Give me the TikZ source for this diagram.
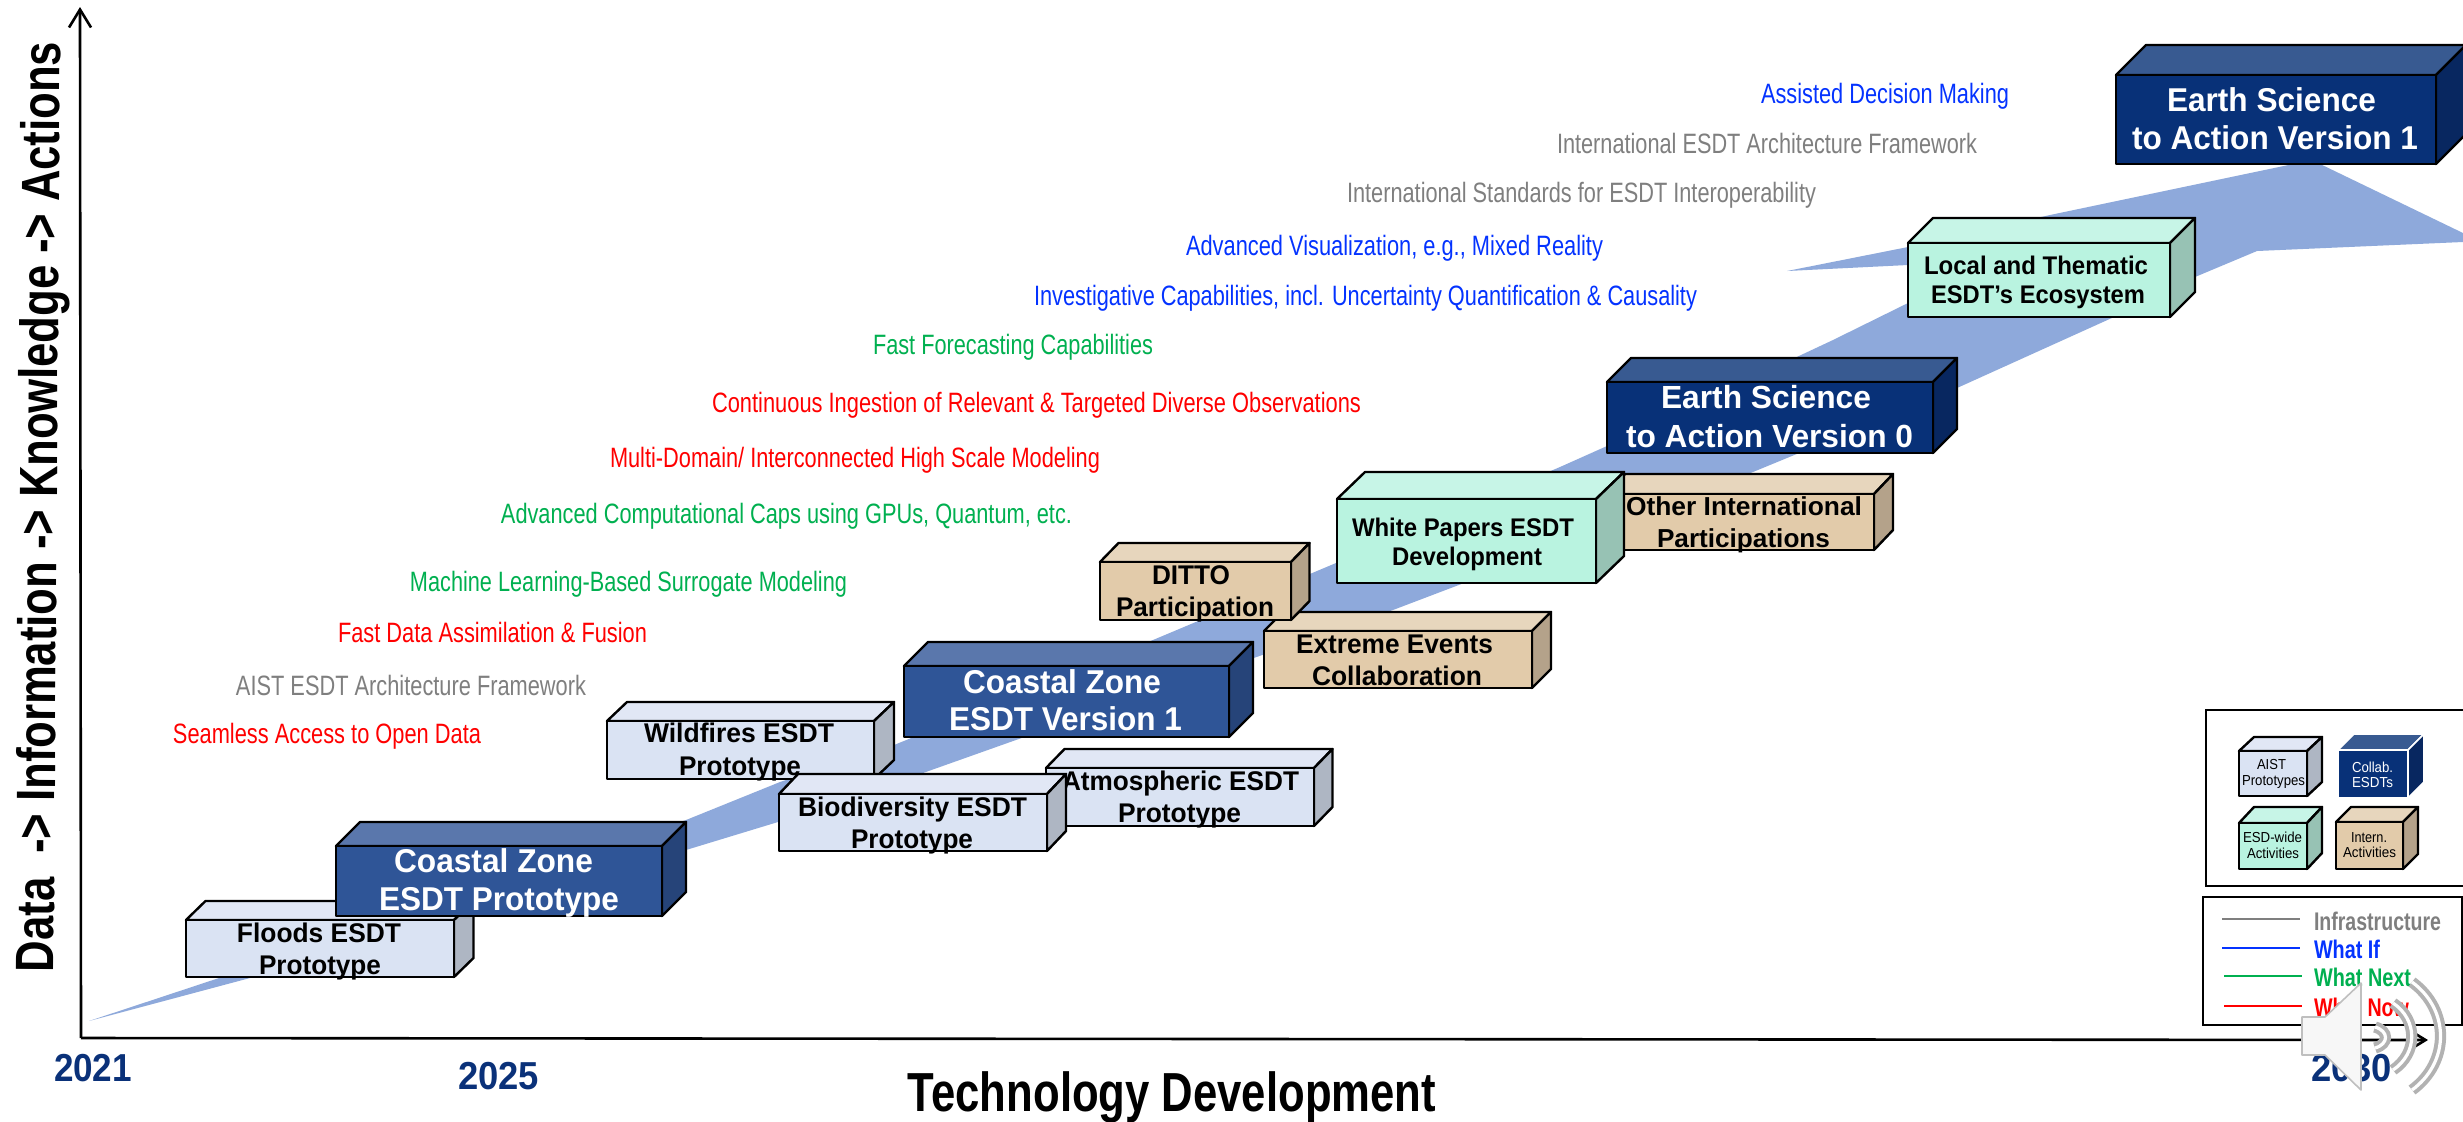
\documentclass[tikz,border=0pt]{standalone}
\usepackage{fontspec}
\usepackage{graphicx}
\setmainfont{Liberation Sans}
\usetikzlibrary{arrows.meta}
\definecolor{ribbon}{HTML}{8EA9DB}
\definecolor{lbF}{HTML}{DAE3F3}\definecolor{lbT}{HTML}{E1E7F5}\definecolor{lbS}{HTML}{AEB6C3}
\definecolor{mbF}{HTML}{2F5597}\definecolor{mbT}{HTML}{5A77AC}\definecolor{mbS}{HTML}{264479}
\definecolor{nvF}{HTML}{083178}\definecolor{nvT}{HTML}{385A91}\definecolor{nvS}{HTML}{082760}
\definecolor{mtF}{HTML}{B9F3E0}\definecolor{mtT}{HTML}{C7F5E7}\definecolor{mtS}{HTML}{97C2B4}
\definecolor{tnF}{HTML}{E2CBAA}\definecolor{tnT}{HTML}{E7D6BD}\definecolor{tnS}{HTML}{B4A28A}
\definecolor{tblue}{HTML}{0433FF}\definecolor{tgray}{HTML}{7F7F7F}
\definecolor{tgreen}{HTML}{00B050}\definecolor{tred}{HTML}{FF0000}\definecolor{year}{HTML}{0A3179}
\tikzset{
  cubeedge/.style={draw=black,line width=1.2pt,line join=round},
  tl/.style={inner sep=0pt,outer sep=0pt,anchor=base},
  bd/.style={font=\bfseries},
  axisline/.style={draw=black,line width=1.3pt,-{Straight Barb[length=9pt,width=11pt,line width=1.3pt]}},
  frame/.style={draw=black,line width=1.4pt},
  key/.style={line width=1.3pt},
  wave/.style={draw=black!30,double=white,line width=2pt,double distance=1.6pt}
}
% name x1 y1 x2 y2 dx dy scheme
\newcommand\cube[8]{%
  \begin{scope}[yshift=-0.5pt]
  \path[cubeedge,fill=#8T] (#2,#3) -- ++(#6,-#7) -- ({#4+#6},{#3-#7}) -- (#4,#3) -- cycle;
  \path[cubeedge,fill=#8S] (#4,#3) -- ({#4+#6},{#3-#7}) -- ({#4+#6},{#5-#7}) -- (#4,#5) -- cycle;
  \pgfmathsetlengthmacro{\cw}{(#4-#2)*0.5}\pgfmathsetlengthmacro{\ch}{(#5-#3)*0.5}%
  \node[cubeedge,fill=#8F,anchor=north west,inner sep=0pt,outer sep=0pt,minimum width=\cw,minimum height=\ch] (#1) at (#2,#3) {};
  \end{scope}
}
% name x1 x2 capcentre size style text
\newcommand\tline[7]{%
  \pgfmathsetlengthmacro{\tw}{(#3-#2)*0.5}\pgfmathsetmacro{\fs}{#5*0.5}%
  \node[tl,#6] (#1) at ({(#2+#3)/2},{#4+0.358*#5}) {\resizebox{\tw}{\height}{\fontsize{\fs pt}{\fs pt}\selectfont #7}};
}
\begin{document}
\begin{tikzpicture}[x=0.5pt,y=-0.5pt]
\useasboundingbox (0,0) rectangle (2463,1121);
\fill[white] (0,0) rectangle (2463,1121);
% ribbon
\fill[ribbon] (89,1021) -- (250,978) -- (686,850) -- (778,822) -- (923,773) -- (1030,735) -- (1393,610) -- (1464,583)
  -- (1753,472) -- (1957,388) -- (2114,317) -- (2195,277) -- (2257,251) -- (2463,242) -- (2463,233) -- (2318,163) -- (2312,160) -- (2298,163)
  -- (2050,215) -- (1908,247) -- (1787,271) -- (1908,265) -- (1985,261) -- (1908,303) -- (1833,340) -- (1607,446) -- (1560,467)
  -- (1336,563) -- (1153,640) -- (894,745) -- (780,782) -- (686,820) -- (219,978) -- cycle;
% axes
\coordinate (o) at (81,1038);
\coordinate (ytip) at (80,7);
\coordinate (xtip) at (2428,1040);
\draw[axisline] (o) -- (ytip);
\draw[axisline] (o) -- (xtip);
% cubes
\cube{floods}{186}{919}{454}{976}{19.5}{19}{lb}
\tline{floodsa}{237}{401}{933}{27}{bd}{Floods ESDT}
\tline{floodsb}{259}{381}{965}{27}{bd}{Prototype}
\cube{czp}{336}{845}{662}{915}{24}{24}{mb}
\tline{czpa}{394}{593}{861}{33}{bd,white}{Coastal Zone}
\tline{czpb}{379}{619}{899}{33}{bd,white}{ESDT Prototype}
\cube{wild}{607}{720}{874}{778}{20}{19}{lb}
\tline{wilda}{644}{834}{733}{27}{bd}{Wildfires ESDT}
\tline{wildb}{679}{801}{766}{27}{bd}{Prototype}
\cube{atmo}{1046}{767}{1314}{825}{18.5}{19}{lb}
\tline{atmoa}{1062}{1299}{781}{27}{bd}{Atmospheric ESDT}
\tline{atmob}{1118}{1241}{813}{27}{bd}{Prototype}
\cube{bio}{779}{793}{1047}{850}{19}{20}{lb}
\tline{bioa}{798}{1027}{807}{27}{bd}{Biodiversity ESDT}
\tline{biob}{851}{973}{839}{27}{bd}{Prototype}
\cube{czv}{904}{665}{1229}{736}{24}{24}{mb}
\tline{czva}{963}{1161}{682}{33}{bd,white}{Coastal Zone}
\tline{czvb}{949}{1182}{719}{33}{bd,white}{ESDT Version 1}
\cube{ext}{1264}{630}{1532}{687}{19}{19}{tn}
\tline{exta}{1296}{1493}{644}{27}{bd}{Extreme Events}
\tline{extb}{1312}{1482}{676}{27}{bd}{Collaboration}
\cube{ditto}{1100}{561}{1291}{619}{18.5}{19}{tn}
\tline{dittoa}{1152}{1230}{575}{27}{bd}{DITTO}
\tline{dittob}{1116}{1274}{607}{27}{bd}{Participation}
\cube{v0}{1607}{381}{1933}{452}{24}{24}{nv}
\tline{v0a}{1661}{1871}{397.5}{32}{bd,white}{Earth Science}
\tline{v0b}{1626}{1913}{436}{32}{bd,white}{to Action Version 0}
\cube{other}{1606}{493}{1874}{549}{19}{20}{tn}
\tline{othera}{1626}{1862}{506}{26}{bd}{Other International}
\tline{otherb}{1657}{1830}{538}{26}{bd}{Participations}
\cube{white}{1337}{498}{1596}{582}{28}{27}{mt}
\tline{whitea}{1352}{1574}{527}{25.5}{bd}{White Papers ESDT}
\tline{whiteb}{1392}{1542}{556}{25.5}{bd}{Development}
\cube{local}{1908}{242}{2170}{316}{25}{25}{mt}
\tline{locala}{1924}{2148}{265}{25.5}{bd}{Local and Thematic}
\tline{localb}{1931}{2145}{294}{25.5}{bd}{ESDT’s Ecosystem}
\cube{v1}{2116}{74}{2436}{163}{30}{30}{nv}
\tline{v1a}{2167}{2376}{100}{33}{bd,white}{Earth Science}
\tline{v1b}{2132}{2418}{138}{33}{bd,white}{to Action Version 1}
% milestone lines
\tline{m1}{1761}{2009}{93}{28}{tblue}{Assisted Decision Making}
\tline{m2}{1557}{1977}{143}{28}{tgray}{International ESDT Architecture Framework}
\tline{m3}{1347}{1816}{192}{28}{tgray}{International Standards for ESDT Interoperability}
\tline{m4}{1186}{1603}{245}{28}{tblue}{Advanced Visualization, e.g., Mixed Reality}
\tline{m5}{1034}{1697}{295}{28}{tblue}{Investigative Capabilities, incl. Uncertainty Quantification \& Causality}
\tline{m6}{873}{1153}{344}{28}{tgreen}{Fast Forecasting Capabilities}
\tline{m7}{712}{1361}{402}{28}{tred}{Continuous Ingestion of Relevant \& Targeted Diverse Observations}
\tline{m8}{610}{1100}{457}{28}{tred}{Multi-Domain/ Interconnected High Scale Modeling}
\tline{m9}{501}{1072}{513}{28}{tgreen}{Advanced Computational Caps using GPUs, Quantum, etc.}
\tline{m10}{410}{847}{581}{28}{tgreen}{Machine Learning-Based Surrogate Modeling}
\tline{m11}{338}{647}{632}{28}{tred}{Fast Data Assimilation \& Fusion}
\tline{m12}{236}{586}{685}{28}{tgray}{AIST ESDT Architecture Framework}
\tline{m13}{173}{481}{733}{28}{tred}{Seamless Access to Open Data}
% axis labels
\pgfmathsetlengthmacro{\ylen}{930*0.5}%
\node[tl,rotate=89.6,font=\bfseries] (ylab) at (57,507) {\resizebox{\ylen}{\height}{\fontsize{27pt}{27pt}\selectfont Data\ \ -> Information -> Knowledge -> Actions}};
\tline{xlab}{908}{1436}{1092}{55}{bd}{Technology Development}
\tline{y21}{54}{132}{1068}{39}{bd,year}{2021}
\tline{y25}{458}{539}{1076}{39}{bd,year}{2025}
\tline{y30}{2311}{2392}{1068}{39}{bd,year}{2030}
% legends
\draw[frame] (2206,710) -- (2475,710) -- (2475,886) -- (2206,886) -- cycle;
\draw[frame] (2203,897) -- (2462,897) -- (2462,1025) -- (2203,1025) -- cycle;
\cube{kaist}{2239}{750}{2307}{795}{15}{14}{lb}
\tline{kaista}{2257}{2286}{764}{14.5}{}{AIST}
\tline{kaistb}{2242}{2305}{780}{14.5}{}{Prototypes}
\begin{scope}[cubeedge/.style={draw=white,line width=0.8pt,line join=round}]
\cube{kcol}{2338}{749}{2408}{797}{16}{16}{nv}
\end{scope}
\tline{kcola}{2352}{2393}{767}{14.5}{white}{Collab.}
\tline{kcolb}{2352}{2393}{782}{14.5}{white}{ESDTs}
\cube{kesd}{2239}{822}{2307}{868}{15}{16}{mt}
\tline{kesda}{2243}{2302}{837}{14.5}{}{ESD-wide}
\tline{kesdb}{2247}{2299}{853}{14.5}{}{Activities}
\cube{kint}{2336}{821}{2403}{868}{15}{15}{tn}
\tline{kinta}{2351}{2387}{837}{14.5}{}{Intern.}
\tline{kintb}{2343}{2396}{852}{14.5}{}{Activities}
\tline{la}{2314}{2441}{921}{25.5}{bd,tgray}{Infrastructure}
\tline{lb}{2314}{2380}{949}{25.5}{bd,tblue}{What If}
\tline{lc}{2314}{2411}{977}{25.5}{bd,tgreen}{What Next}
\tline{ld}{2314}{2409}{1007}{25.5}{bd,tred}{What Now}
\coordinate (k1a) at (2222,919);\coordinate (k1b) at (2300,919);
\coordinate (k2a) at (2222,948);\coordinate (k2b) at (2300,948);
\coordinate (k3a) at (2224,976);\coordinate (k3b) at (2302,976);
\coordinate (k4a) at (2224,1006);\coordinate (k4b) at (2302,1006);
\draw[key,tgray] (k1a) -- (k1b);
\draw[key,tblue] (k2a) -- (k2b);
\draw[key,tgreen] (k3a) -- (k3b);
\draw[key,tred] (k4a) -- (k4b);
% speaker icon
\draw[wave] (2375,1027) .. controls (2389,1031) and (2389,1044) .. (2375,1048);
\draw[wave] (2393,1003) .. controls (2418,1020) and (2418,1053) .. (2393,1070);
\draw[wave] (2412,982) .. controls (2450,1010) and (2450,1062) .. (2412,1090);
\draw[draw=black!25,fill=black!3,line width=0.8pt,line join=round] (2302,1017) -- (2325,1017) -- (2361,983) -- (2361,1090) -- (2325,1055) -- (2302,1055) -- cycle;
\end{tikzpicture}
\end{document}
